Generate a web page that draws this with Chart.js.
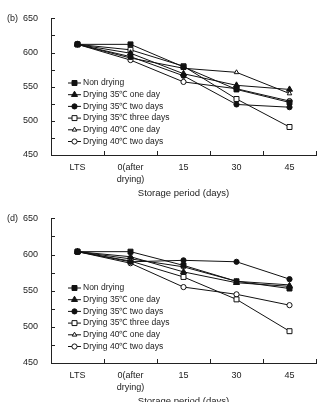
<!DOCTYPE html>
<html>
<head>
<meta charset="utf-8">
<script src="https://cdn.jsdelivr.net/npm/chart.js@4.4.1/dist/chart.umd.min.js"></script>
<style>
  html, body { margin: 0; padding: 0; background: #fff; }
  body { width: 321px; height: 402px; overflow: hidden; position: relative; }
  .panel { position: absolute; left: 0; width: 321px; }
  #panelB { top: 0; height: 200px; }
  #panelD { top: 200px; height: 208px; }
</style>
</head>
<body>
<div class="panel" id="panelB"><canvas id="chartB"></canvas></div>
<div class="panel" id="panelD"><canvas id="chartD"></canvas></div>
<script>
const categories = ['LTS', ['0(after', 'drying)'], '15', '30', '45'];
const seriesNames = ['Non drying', 'Drying 35℃ one day', 'Drying 35℃ two days', 'Drying 35℃ three days', 'Drying 40℃ one day', 'Drying 40℃ two days'];
const yTickLabels = [450, 500, 550, 600, 650];

// panel (b)
const bNonDrying = [612, 612, 579, 546, 527];
const bDry35One = [612, 599, 569, 552, 546];
const bDry35Two = [612, 594, 566, 524, 520];
const bDry35Three = [612, 604, 580, 532, 491];
const bDry40One = [612, 592, 577, 571, 540];
const bDry40Two = [612, 589, 557, 547, 529];

// panel (d)
const dNonDrying = [604, 604, 585, 563, 553];
const dDry35One = [604, 597, 576, 561, 556];
const dDry35Two = [604, 590, 592, 590, 566];
const dDry35Three = [604, 591, 569, 538, 494];
const dDry40One = [604, 594, 583, 563, 558];
const dDry40Two = [604, 588, 555, 545, 530];

const markers = [
  { style: 'rect', radius: 3.5, fill: '#111' },
  { style: 'triangle', radius: 3.5, fill: '#111' },
  { style: 'circle', radius: 2.6, fill: '#111' },
  { style: 'rect', radius: 3.5, fill: '#fff' },
  { style: 'triangle', radius: 2.6, fill: '#fff' },
  { style: 'circle', radius: 2.6, fill: '#fff' }
];

const FONT = '"Liberation Sans", Arial, sans-serif';
const INK = '#222';

// inward tick marks, panel letter and the legend inside the plot
const panelDecor = {
  id: 'panelDecor',
  afterDraw(chart, args, opts) {
    const ctx = chart.ctx;
    const x = chart.scales.x, y = chart.scales.y;
    const area = chart.chartArea;
    ctx.save();
    ctx.strokeStyle = INK;
    ctx.lineWidth = 1;
    ctx.beginPath();
    y.ticks.forEach(t => {
      const py = Math.round(y.getPixelForValue(t.value)) + 0.5;
      ctx.moveTo(area.left, py);
      ctx.lineTo(area.left + 4, py);
    });
    const step = x.getPixelForValue(1) - x.getPixelForValue(0);
    for (let i = 0; i <= categories.length; i++) {
      const px = Math.round(x.getPixelForValue(0) - step / 2 + i * step) + 0.5;
      ctx.moveTo(px, area.bottom);
      ctx.lineTo(px, area.bottom - 4);
    }
    ctx.stroke();

    ctx.fillStyle = INK;
    ctx.font = '9px ' + FONT;
    ctx.textBaseline = 'middle';
    ctx.fillText(opts.letter, 7, area.top);

    ctx.font = '8.5px ' + FONT;
    let ly = opts.legendTop;
    chart.data.datasets.forEach(ds => {
      ctx.strokeStyle = '#111';
      ctx.beginPath();
      ctx.moveTo(68, ly);
      ctx.lineTo(81, ly);
      ctx.stroke();
      ctx.fillStyle = ds.pointBackgroundColor;
      Chart.helpers.drawPoint(ctx, { pointStyle: ds.pointStyle, radius: ds.pointRadius, borderWidth: 1, rotation: 0 }, 74.5, ly);
      ctx.fillStyle = INK;
      ctx.fillText(ds.label, 83, ly);
      ly += 11.7;
    });
    ctx.restore();
  }
};

function makeChart(id, letter, series, padTop, legendTop) {
  return new Chart(document.getElementById(id), {
    type: 'line',
    data: {
      labels: categories,
      datasets: series.map((vals, i) => ({
        label: seriesNames[i],
        data: vals,
        borderColor: '#111',
        borderWidth: 1,
        pointStyle: markers[i].style,
        pointRadius: markers[i].radius,
        pointBackgroundColor: markers[i].fill,
        pointBorderColor: '#111',
        pointBorderWidth: 1,
        tension: 0,
        fill: false
      }))
    },
    options: {
      responsive: true,
      maintainAspectRatio: false,
      animation: false,
      layout: { padding: { top: padTop, right: 4, left: 0, bottom: 0 } },
      plugins: {
        legend: { display: false },
        tooltip: { enabled: false },
        panelDecor: { letter: letter, legendTop: legendTop }
      },
      scales: {
        x: {
          offset: true,
          grid: { display: true, drawOnChartArea: false, drawTicks: false },
          border: { display: true, color: INK, width: 1 },
          ticks: { color: INK, font: { family: FONT, size: 9, lineHeight: 1.3 }, padding: 7, maxRotation: 0, autoSkip: false },
          title: { display: true, text: 'Storage period (days)', color: INK, font: { family: FONT, size: 9.5 }, padding: { top: 0, bottom: 1 } },
          afterFit: s => { s.height = 45; }
        },
        y: {
          min: 450,
          max: 650,
          grid: { display: true, drawOnChartArea: false, drawTicks: false },
          border: { display: true, color: INK, width: 1 },
          ticks: {
            stepSize: 25,
            color: INK,
            font: { family: FONT, size: 9 },
            padding: 13,
            callback: v => yTickLabels.includes(v) ? v : ''
          },
          afterFit: s => { s.width = 51; }
        }
      }
    },
    plugins: [panelDecor]
  });
}

makeChart('chartB', '(b)', [bNonDrying, bDry35One, bDry35Two, bDry35Three, bDry40One, bDry40Two], 7, 83);
makeChart('chartD', '(d)', [dNonDrying, dDry35One, dDry35Two, dDry35Three, dDry40One, dDry40Two], 15, 88);
</script>
</body>
</html>
